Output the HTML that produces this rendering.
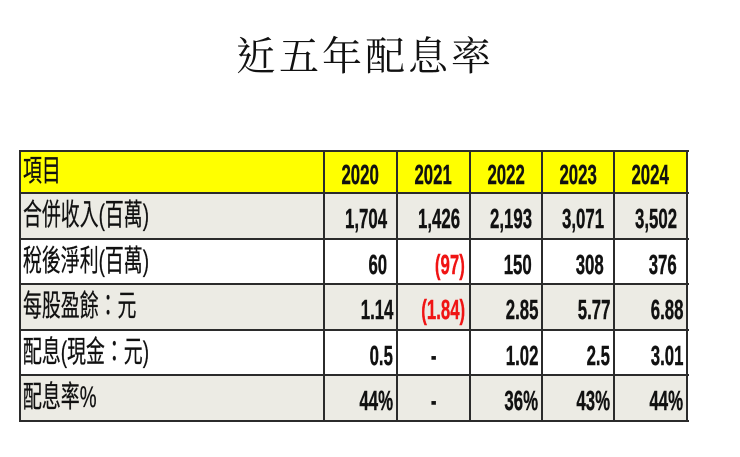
<!DOCTYPE html>
<html><head><meta charset="utf-8">
<style>
html,body{margin:0;padding:0;background:#fff;}
body{width:740px;height:457px;position:relative;overflow:hidden;font-family:"Liberation Sans","Noto Sans CJK TC",sans-serif;}
.title{position:absolute;left:-13px;width:740px;top:30px;text-align:center;font-family:"Liberation Serif","Noto Serif CJK TC","Noto Serif CJK SC",serif;font-size:40px;letter-spacing:3px;line-height:54px;color:#111;padding-left:8px;}
.bg{position:absolute;}
.hl{position:absolute;height:2px;background:#2b2b2b;}
.vl{position:absolute;width:2px;background:#2b2b2b;}
.c{position:absolute;display:flex;align-items:center;}
.c span{display:inline-block;white-space:nowrap;line-height:1;}
.lab{justify-content:flex-start;}
.lab span{font-size:30px;transform:scaleX(0.63);transform-origin:left center;color:#111;-webkit-text-stroke:0.3px #111;}
.num{justify-content:flex-end;}
.num span{font-size:28px;font-weight:bold;transform:translateY(3px) scaleX(0.6);transform-origin:right center;color:#111;-webkit-text-stroke:0.4px #111;}
.ctr{justify-content:center;}
.ctr span{font-size:28px;font-weight:bold;transform:translateY(3px) scaleX(0.6);transform-origin:center center;color:#111;-webkit-text-stroke:0.4px #111;}
.red{color:#f01414 !important;-webkit-text-stroke:0.4px #f01414 !important;}
</style></head><body>
<div class="title">近五年配息率</div>

<!-- backgrounds -->
<div class="bg" style="left:20px;top:151px;width:667px;height:42px;background:#ffff00;"></div>
<div class="bg" style="left:20px;top:193px;width:667px;height:46px;background:#ecebe4;"></div>
<div class="bg" style="left:20px;top:239px;width:667px;height:45px;background:#ffffff;"></div>
<div class="bg" style="left:20px;top:284px;width:667px;height:46px;background:#ecebe4;"></div>
<div class="bg" style="left:20px;top:330px;width:667px;height:45px;background:#ffffff;"></div>
<div class="bg" style="left:20px;top:375px;width:667px;height:46px;background:#ecebe4;"></div>

<!-- horizontal lines -->
<div class="hl" style="left:19px;width:670px;top:150px;"></div>
<div class="hl" style="left:19px;width:670px;top:192px;"></div>
<div class="hl" style="left:19px;width:670px;top:238px;"></div>
<div class="hl" style="left:19px;width:670px;top:283px;"></div>
<div class="hl" style="left:19px;width:670px;top:329px;"></div>
<div class="hl" style="left:19px;width:670px;top:374px;"></div>
<div class="hl" style="left:19px;width:670px;top:420px;"></div>
<!-- vertical lines -->
<div class="vl" style="top:150px;height:272px;left:19px;"></div>
<div class="vl" style="top:150px;height:272px;left:323px;"></div>
<div class="vl" style="top:150px;height:272px;left:396px;"></div>
<div class="vl" style="top:150px;height:272px;left:469px;"></div>
<div class="vl" style="top:150px;height:272px;left:541px;"></div>
<div class="vl" style="top:150px;height:272px;left:613px;"></div>
<div class="vl" style="top:150px;height:272px;left:686px;"></div>

<!-- header -->
<div class="c lab" style="left:23px;top:151px;width:290px;height:42px;"><span>項目</span></div>
<div class="c ctr" style="left:324px;top:151px;width:73px;height:42px;"><span>2020</span></div>
<div class="c ctr" style="left:397px;top:151px;width:73px;height:42px;"><span>2021</span></div>
<div class="c ctr" style="left:470px;top:151px;width:72px;height:42px;"><span>2022</span></div>
<div class="c ctr" style="left:542px;top:151px;width:72px;height:42px;"><span>2023</span></div>
<div class="c ctr" style="left:614px;top:151px;width:73px;height:42px;"><span>2024</span></div>

<!-- row 1 -->
<div class="c lab" style="left:23px;top:193px;width:290px;height:46px;"><span>合併收入(百萬)</span></div>
<div class="c num" style="left:324px;top:193px;width:63px;height:46px;"><span>1,704</span></div>
<div class="c num" style="left:397px;top:193px;width:63px;height:46px;"><span>1,426</span></div>
<div class="c num" style="left:470px;top:193px;width:62px;height:46px;"><span>2,193</span></div>
<div class="c num" style="left:542px;top:193px;width:62px;height:46px;"><span>3,071</span></div>
<div class="c num" style="left:614px;top:193px;width:63px;height:46px;"><span>3,502</span></div>

<!-- row 2 -->
<div class="c lab" style="left:23px;top:239px;width:290px;height:45px;"><span>稅後淨利(百萬)</span></div>
<div class="c num" style="left:324px;top:239px;width:63px;height:45px;"><span>60</span></div>
<div class="c num" style="left:397px;top:239px;width:68px;height:45px;"><span class="red">(97)</span></div>
<div class="c num" style="left:470px;top:239px;width:62px;height:45px;"><span>150</span></div>
<div class="c num" style="left:542px;top:239px;width:62px;height:45px;"><span>308</span></div>
<div class="c num" style="left:614px;top:239px;width:63px;height:45px;"><span>376</span></div>

<!-- row 3 -->
<div class="c lab" style="left:23px;top:284px;width:290px;height:46px;"><span>每股盈餘：元</span></div>
<div class="c num" style="left:324px;top:284px;width:69px;height:46px;"><span>1.14</span></div>
<div class="c num" style="left:397px;top:284px;width:68px;height:46px;"><span class="red">(1.84)</span></div>
<div class="c num" style="left:470px;top:284px;width:68px;height:46px;"><span>2.85</span></div>
<div class="c num" style="left:542px;top:284px;width:68px;height:46px;"><span>5.77</span></div>
<div class="c num" style="left:614px;top:284px;width:69px;height:46px;"><span>6.88</span></div>

<!-- row 4 -->
<div class="c lab" style="left:23px;top:330px;width:290px;height:45px;"><span>配息(現金：元)</span></div>
<div class="c num" style="left:324px;top:330px;width:69px;height:45px;"><span>0.5</span></div>
<div class="c ctr" style="left:397px;top:330px;width:73px;height:45px;"><span>-</span></div>
<div class="c num" style="left:470px;top:330px;width:68px;height:45px;"><span>1.02</span></div>
<div class="c num" style="left:542px;top:330px;width:68px;height:45px;"><span>2.5</span></div>
<div class="c num" style="left:614px;top:330px;width:69px;height:45px;"><span>3.01</span></div>

<!-- row 5 -->
<div class="c lab" style="left:23px;top:375px;width:290px;height:46px;"><span>配息率%</span></div>
<div class="c num" style="left:324px;top:375px;width:69px;height:46px;"><span>44%</span></div>
<div class="c ctr" style="left:397px;top:375px;width:73px;height:46px;"><span>-</span></div>
<div class="c num" style="left:470px;top:375px;width:68px;height:46px;"><span>36%</span></div>
<div class="c num" style="left:542px;top:375px;width:68px;height:46px;"><span>43%</span></div>
<div class="c num" style="left:614px;top:375px;width:69px;height:46px;"><span>44%</span></div>
</body></html>
